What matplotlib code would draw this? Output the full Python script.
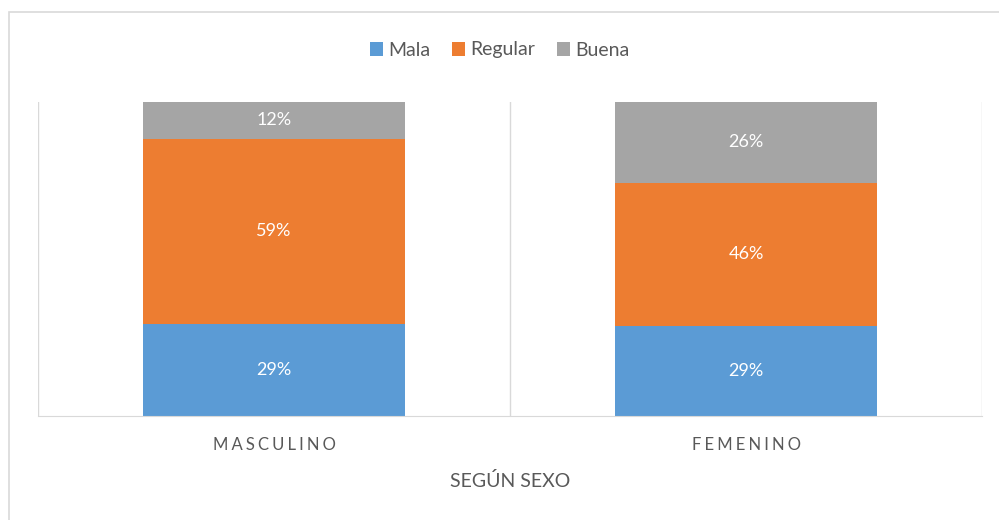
import matplotlib.pyplot as plt
from matplotlib.patches import Rectangle
import numpy as np

plt.rcParams['font.family'] = ['Lato', 'DejaVu Sans']

categorias = ["MASCULINO", "FEMENINO"]
series = ["Mala", "Regular", "Buena"]
mala = [29.4, 28.6]
regular = [58.8, 45.7]
buena = [11.8, 25.7]
colores = ["#5B9BD5", "#ED7D31", "#A5A5A5"]

fig = plt.figure(figsize=(9.99, 5.2), dpi=100)
ax = fig.add_axes([0.038, 0.2, 0.945, 0.604])

# borde exterior del gráfico
fig.add_artist(Rectangle((9 / 999, -0.1), 1.2, 1 - 12 / 520 + 0.1,
                         transform=fig.transFigure, fill=False,
                         edgecolor="#D9D9D9", linewidth=1.2))

x = np.arange(len(categorias))
datos = np.array([mala, regular, buena])
totales = datos.sum(axis=0)
pct = datos / totales * 100
base = np.zeros(len(categorias))
for nombre, vals, col in zip(series, pct, colores):
    bars = ax.bar(x, vals, width=0.557, bottom=base, color=col, label=nombre)
    for xi, b, v in zip(x, base, vals):
        ax.text(xi, b + v / 2, f"{v:.0f}%", ha="center", va="center",
                color="white", fontsize=13)
    base += vals

ax.set_xlim(-0.5, 1.5)
ax.set_ylim(0, 100)
ax.set_yticks([])
for s in ["top", "right", "left"]:
    ax.spines[s].set_visible(False)
ax.spines["bottom"].set_color("#D9D9D9")
ax.axvline(-0.5, color="#D9D9D9", lw=1, zorder=0)
ax.axvline(0.5, color="#D9D9D9", lw=1, zorder=0)
ax.axvline(1.5, color="#D9D9D9", lw=1, zorder=0)

ax.set_xticks(x)
ax.set_xticklabels(["\u2009\u200a".join(c) for c in categorias], color="#595959", fontsize=12)
ax.tick_params(axis="x", length=0, pad=15)
ax.set_xlabel("SEGÚN SEXO", color="#595959", fontsize=14, labelpad=14)

fig.legend(loc="center", bbox_to_anchor=(0.5, 1 - 50 / 520), ncol=3, frameon=False,
           fontsize=14, handlelength=0.7, handleheight=0.7, handletextpad=0.25,
           columnspacing=1.1, labelcolor="#595959")

fig.savefig("out.png", dpi=100)
